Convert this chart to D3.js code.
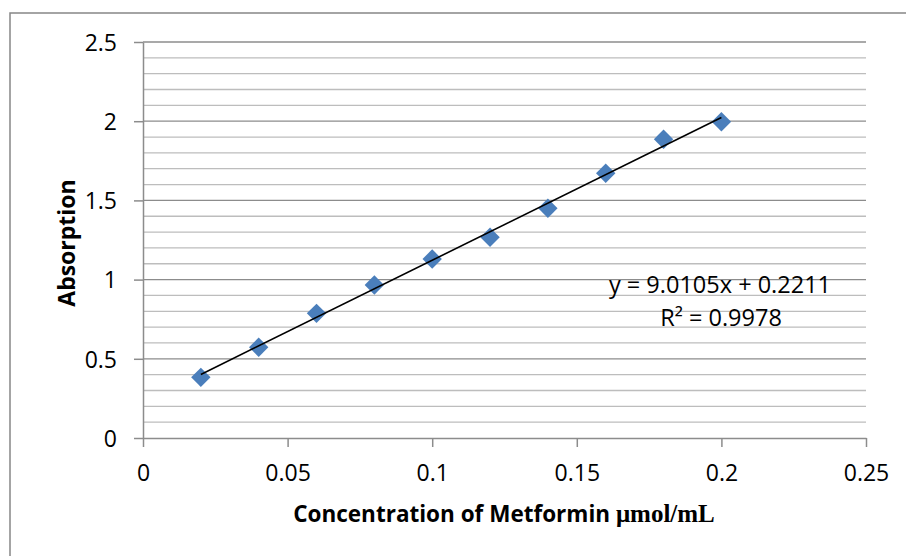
<!DOCTYPE html>
<html>
<head>
<meta charset="utf-8">
<script src="https://cdn.jsdelivr.net/npm/d3@7"></script>
<style>
  html, body { margin: 0; padding: 0; background: #fff; overflow: hidden; }
  svg { display: block; }
</style>
</head>
<body>
<svg id="chart"></svg>
<script>
// calibration data
const concentration = [0.02, 0.04, 0.06, 0.08, 0.10, 0.12, 0.14, 0.16, 0.18, 0.20];
const absorption = [0.383, 0.573, 0.787, 0.966, 1.13, 1.267, 1.45, 1.671, 1.886, 1.997];

// linear trendline as printed on the chart
const slope = 9.0105;
const intercept = 0.2211;
const rSquared = 0.9978;

const xDomain = [0, 0.25];
const yDomain = [0, 2.5];

const width = 906, height = 556;
const margin = { top: 42, right: 40, bottom: 118, left: 143 };

const svg = d3.select("#chart").attr("width", width).attr("height", height);

// outer chart border (runs off the right / bottom of the picture)
svg.append("rect")
  .attr("x", 10).attr("y", 13)
  .attr("width", width + 20).attr("height", height + 20)
  .attr("fill", "none")
  .attr("stroke", "#878787")
  .attr("stroke-width", 1.5);

const x = d3.scaleLinear().domain(xDomain).range([margin.left, width - margin.right]);
const y = d3.scaleLinear().domain(yDomain).range([height - margin.bottom, margin.top]);

const sans = "'Open Sans', 'Noto Sans', sans-serif";

// minor gridlines every 0.1, major every 0.5
const minor = d3.range(0, 25).map(i => i / 10).filter(v => Math.abs(v * 2 - Math.round(v * 2)) > 1e-6);
svg.append("g")
  .selectAll("line")
  .data(minor)
  .join("line")
  .attr("x1", x(xDomain[0])).attr("x2", x(xDomain[1]))
  .attr("y1", d => y(d)).attr("y2", d => y(d))
  .attr("stroke", "#bdbdbd")
  .attr("stroke-width", 1.3);

svg.append("g")
  .selectAll("line")
  .data(y.ticks(5).filter(d => d > 0))
  .join("line")
  .attr("x1", x(xDomain[0])).attr("x2", x(xDomain[1]))
  .attr("y1", d => y(d)).attr("y2", d => y(d))
  .attr("stroke", "#8c8c8c")
  .attr("stroke-width", 1.3);

// axes
const fmt = d3.format("~g");

const yAxis = svg.append("g")
  .attr("transform", `translate(${x(0)},0)`)
  .call(d3.axisLeft(y).ticks(5).tickFormat(fmt).tickSizeInner(9).tickSizeOuter(0).tickPadding(17));

const xAxis = svg.append("g")
  .attr("transform", `translate(0,${y(0)})`)
  .call(d3.axisBottom(x).ticks(5).tickFormat(fmt).tickSizeInner(9).tickSizeOuter(0).tickPadding(17));

[yAxis, xAxis].forEach(g => {
  g.select(".domain").attr("stroke", "#8c8c8c").attr("stroke-width", 1.5);
  g.selectAll(".tick line").attr("stroke", "#8c8c8c").attr("stroke-width", 1.5);
  g.selectAll(".tick text")
    .attr("fill", "#000")
    .style("font-family", sans)
    .style("font-size", "23px");
});
yAxis.selectAll(".tick text").attr("dy", "0.36em");
xAxis.selectAll(".tick text").attr("dy", "0.76em");

const xExt = d3.extent(concentration);

// diamond markers
const diamond = d3.symbol().type(d3.symbolDiamond2).size(240);
svg.append("g")
  .selectAll("path")
  .data(concentration.map((c, i) => [c, absorption[i]]))
  .join("path")
  .attr("transform", d => `translate(${x(d[0])},${y(d[1])})`)
  .attr("d", diamond)
  .attr("fill", "#4a7ebb");

// trendline over the data range, drawn on top of the markers
svg.append("line")
  .attr("x1", x(xExt[0])).attr("y1", y(slope * xExt[0] + intercept))
  .attr("x2", x(xExt[1])).attr("y2", y(slope * xExt[1] + intercept))
  .attr("stroke", "#000")
  .attr("stroke-width", 1.6);

// equation label
svg.append("text")
  .attr("x", 720).attr("y", 293)
  .attr("text-anchor", "middle")
  .style("font-family", sans)
  .style("font-size", "23.5px")
  .text(`y = ${slope}x + ${intercept}`);

svg.append("text")
  .attr("x", 721).attr("y", 326)
  .attr("text-anchor", "middle")
  .style("font-family", sans)
  .style("font-size", "23.5px")
  .text(`R² = ${rSquared}`);

// axis titles
svg.append("text")
  .attr("transform", `translate(75,243) rotate(-90)`)
  .attr("text-anchor", "middle")
  .style("font-family", sans)
  .style("font-size", "23px")
  .style("font-weight", "bold")
  .text("Absorption");

const xt = svg.append("text")
  .attr("x", 504).attr("y", 522)
  .attr("text-anchor", "middle")
  .style("font-size", "22.5px")
  .style("font-weight", "bold");
xt.append("tspan").style("font-family", sans).text("Concentration of Metformin ");
xt.append("tspan").style("font-family", "'Liberation Serif', 'Times New Roman', serif").style("font-size", "25px").text("μmol/mL");
</script>
</body>
</html>
